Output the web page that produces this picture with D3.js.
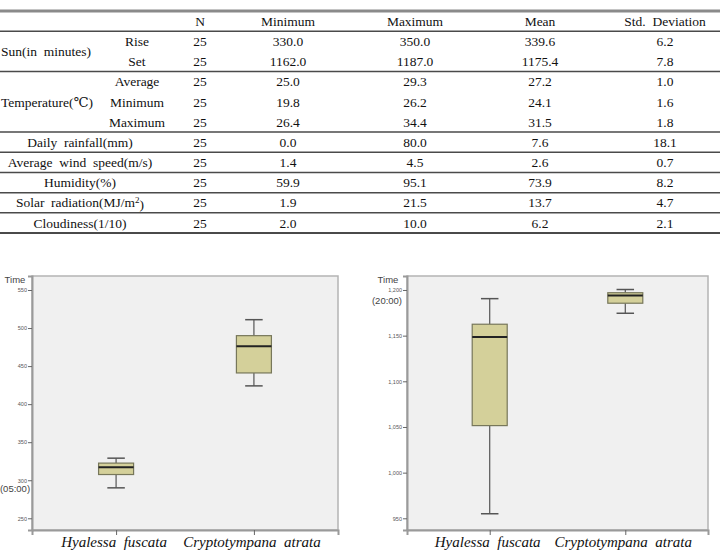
<!DOCTYPE html>
<html>
<head>
<meta charset="utf-8">
<script src="https://cdn.jsdelivr.net/npm/d3@7"></script>
<style>
  body { margin: 0; background: #fff; }
  svg { display: block; }
  text { white-space: pre; }
</style>
</head>
<body>
<svg id="fig" width="720" height="556"></svg>
<script>
// Données du tableau
const headers = ["N", "Minimum", "Maximum", "Mean", "Std.  Deviation"]
const rowGroups = ["Sun(in  minutes)", "Sun(in  minutes)", "Temperature(℃)", "Temperature(℃)", "Temperature(℃)",
    "Daily  rainfall(mm)", "Average  wind  speed(m/s)", "Humidity(%)", "Solar  radiation(MJ/m²)", "Cloudiness(1/10)"]
const rowSubs = ["Rise", "Set", "Average", "Minimum", "Maximum", "", "", "", "", ""]
const nValues = [25, 25, 25, 25, 25, 25, 25, 25, 25, 25]
const minValues = [330.0, 1162.0, 25.0, 19.8, 26.4, 0.0, 1.4, 59.9, 1.9, 2.0]
const maxValues = [350.0, 1187.0, 29.3, 26.2, 34.4, 80.0, 4.5, 95.1, 21.5, 10.0]
const meanValues = [339.6, 1175.4, 27.2, 24.1, 31.5, 7.6, 2.6, 73.9, 13.7, 6.2]
const sdValues = [6.2, 7.8, 1.0, 1.6, 1.8, 18.1, 0.7, 8.2, 4.7, 2.1]

// Données des boîtes
const species = ["Hyalessa  fuscata", "Cryptotympana  atrata"]
const riseLow = [290, 424]
const riseQ1 = [307.5, 441]
const riseMed = [317, 476]
const riseQ3 = [322.5, 490]
const riseHigh = [329, 511]
const riseTicks = [250, 300, 350, 400, 450, 500, 550]

const setLow = [955, 1174.5]
const setQ1 = [1051.5, 1185.5]
const setMed = [1148.5, 1194]
const setQ3 = [1162.5, 1197]
const setHigh = [1190.5, 1200.5]
const setTicks = [950, 1000, 1050, 1100, 1150, 1200]

const SERIF = "'Liberation Serif', 'Times New Roman', 'DejaVu Serif', serif"
const SANS = "'Liberation Sans', Arial, sans-serif"

const svg = d3.select("#fig")

// -------------------------------------------------------------------------------
// Tableau

const tbl = svg.append("g")
    .attr("font-family", SERIF)
    .attr("font-size", 13.5)
    .attr("fill", "#111")

const rowY = d3.scaleBand()
    .domain(d3.range(rowGroups.length + 1))
    .range([11, 233])

const colX = d3.scaleOrdinal()
    .domain(["sub", "N", "Minimum", "Maximum", "Mean", "Std.  Deviation"])
    .range([137, 200, 288, 415, 540, 665])

const mid = i => rowY(i) + rowY.bandwidth() / 2

// en-têtes
headers.forEach(h => {
    tbl.append("text")
        .attr("x", colX(h))
        .attr("y", mid(0))
        .attr("dy", "0.35em")
        .attr("text-anchor", "middle")
        .text(h)
})

// lignes
const cols = [nValues, minValues, maxValues, meanValues, sdValues]
rowGroups.forEach((g, i) => {
    const r = i + 1
    if (rowSubs[i] !== "") {
        tbl.append("text")
            .attr("x", colX("sub"))
            .attr("y", mid(r))
            .attr("dy", "0.35em")
            .attr("text-anchor", "middle")
            .text(rowSubs[i])
    }
    cols.forEach((c, j) => {
        tbl.append("text")
            .attr("x", colX(headers[j]))
            .attr("y", mid(r))
            .attr("dy", "0.35em")
            .attr("text-anchor", "middle")
            .text(j === 0 ? c[i] : d3.format(".1f")(c[i]))
    })
})

// libellés de groupe
const groupNames = Array.from(new Set(rowGroups))
groupNames.forEach(g => {
    const idx = rowGroups.map((d, i) => d === g ? i + 1 : -1).filter(i => i > 0)
    const yc = (rowY(idx[0]) + rowY(idx[idx.length - 1]) + rowY.bandwidth()) / 2
    const merged = idx.every(i => rowSubs[i - 1] === "")
    const t = tbl.append("text")
        .attr("y", yc)
        .attr("dy", "0.35em")
    if (merged) {
        t.attr("x", 80).attr("text-anchor", "middle")
    } else {
        t.attr("x", 89).attr("text-anchor", "end")
    }
    if (g.endsWith("m²)")) {
        t.append("tspan").text(g.replace("m²)", "m"))
        t.append("tspan").attr("dy", "-0.45em").attr("font-size", 9).text("2")
        t.append("tspan").attr("dy", "0.45em").text(")")
    } else {
        t.text(g)
    }
    // pas de débordement à gauche
    const bb = t.node().getBBox()
    if (bb.x < 1) t.attr("x", +t.attr("x") + (1 - bb.x))
})

// traits horizontaux
tbl.append("line")
    .attr("x1", 0).attr("x2", 720)
    .attr("y1", rowY(0)).attr("y2", rowY(0))
    .attr("stroke", "#8a8a8a").attr("stroke-width", 3)

const breaks = [1]
rowGroups.forEach((g, i) => {
    if (g !== rowGroups[i + 1]) breaks.push(i + 2)
})
breaks.forEach(b => {
    const y = b <= rowGroups.length ? rowY(b) : 233
    tbl.append("line")
        .attr("x1", 0).attr("x2", 720)
        .attr("y1", y).attr("y2", y)
        .attr("stroke", "#4a4a4a")
        .attr("stroke-width", b > rowGroups.length ? 2 : 1.5)
})

// -------------------------------------------------------------------------------
// Boîtes à moustaches

function boxPlot(opts) {
    const g = svg.append("g")
        .attr("font-family", SANS)
        .attr("fill", "#444")
    const x = d3.scalePoint()
        .domain(species)
        .range([opts.x0, opts.x1])
        .padding(0.61)
    const y = d3.scaleLinear()
        .domain(opts.domain)
        .range([530, 276])

    g.append("rect")
        .attr("x", opts.x0).attr("y", 276)
        .attr("width", opts.x1 - opts.x0).attr("height", 254)
        .attr("fill", "#f0f0f0")
        .attr("stroke", "#b4b4b4").attr("stroke-width", 1.5)

    // axe y
    const ay = g.append("g")
        .attr("transform", `translate(${opts.x0},0)`)
        .call(d3.axisLeft(y).tickValues(opts.ticks).tickSize(4).tickPadding(1).tickFormat(d3.format(",")))
    ay.select(".domain").attr("stroke", "#9a9a9a").attr("stroke-width", 2)
    ay.selectAll(".tick line").attr("stroke", "#666")
    ay.selectAll(".tick text")
        .attr("fill", "#555")
        .attr("font-family", SANS)
        .attr("font-size", 5.5)

    // axe x
    const ax = g.append("g")
        .attr("transform", "translate(0,530)")
        .call(d3.axisBottom(x).tickSize(5).tickFormat(""))
    ax.select(".domain").attr("stroke", "#9a9a9a").attr("stroke-width", 2)
    ax.selectAll(".tick line").attr("stroke", "#666")

    species.forEach((s, i) => {
        g.append("text")
            .attr("x", x(s) - 2)
            .attr("y", 547)
            .attr("text-anchor", "middle")
            .attr("font-family", SERIF)
            .attr("font-style", "italic")
            .attr("font-size", 15)
            .attr("fill", "#111")
            .text(s)

        const cx = x(s), w = 35
        // moustaches
        g.append("line")
            .attr("x1", cx).attr("x2", cx)
            .attr("y1", y(opts.high[i])).attr("y2", y(opts.q3[i]))
            .attr("stroke", "#555").attr("stroke-width", 1.2)
        g.append("line")
            .attr("x1", cx).attr("x2", cx)
            .attr("y1", y(opts.q1[i])).attr("y2", y(opts.low[i]))
            .attr("stroke", "#555").attr("stroke-width", 1.2)
        ;[opts.high[i], opts.low[i]].forEach(v => {
            g.append("line")
                .attr("x1", cx - w / 4).attr("x2", cx + w / 4)
                .attr("y1", y(v)).attr("y2", y(v))
                .attr("stroke", "#555").attr("stroke-width", 1.5)
        })
        // boîte
        g.append("rect")
            .attr("x", cx - w / 2)
            .attr("y", y(opts.q3[i]))
            .attr("width", w)
            .attr("height", y(opts.q1[i]) - y(opts.q3[i]))
            .attr("fill", "#d4d09a")
            .attr("stroke", "#77775a").attr("stroke-width", 1.2)
        // médiane
        g.append("line")
            .attr("x1", cx - w / 2).attr("x2", cx + w / 2)
            .attr("y1", y(opts.med[i])).attr("y2", y(opts.med[i]))
            .attr("stroke", "#222").attr("stroke-width", 2)
    })

    // titres
    g.append("text")
        .attr("x", opts.timeX).attr("y", 283)
        .attr("text-anchor", "middle")
        .attr("font-size", 9.5)
        .text("Time")
    g.append("text")
        .attr("x", opts.clockX).attr("y", opts.clockY)
        .attr("text-anchor", "middle")
        .attr("font-size", 9.5)
        .text(opts.clock)
}

boxPlot({
    x0: 32, x1: 338, domain: [234.6, 568.4], ticks: riseTicks,
    low: riseLow, q1: riseQ1, med: riseMed, q3: riseQ3, high: riseHigh,
    timeX: 15, clock: "(05:00)", clockX: 15, clockY: 492
})

boxPlot({
    x0: 407, x1: 708, domain: [937.2, 1215.3], ticks: setTicks,
    low: setLow, q1: setQ1, med: setMed, q3: setQ3, high: setHigh,
    timeX: 388, clock: "(20:00)", clockX: 387, clockY: 304
})
</script>
</body>
</html>
